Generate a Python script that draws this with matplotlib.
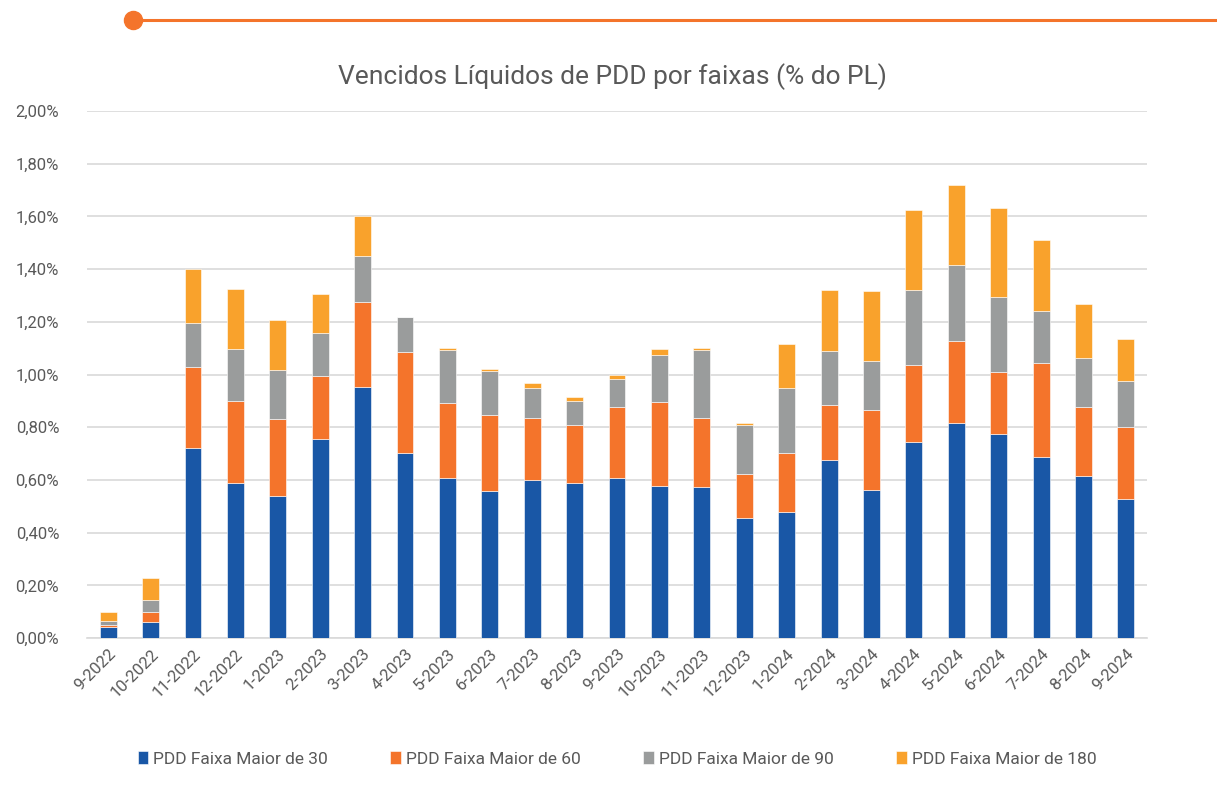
import numpy as np
import matplotlib.pyplot as plt
from matplotlib.ticker import FuncFormatter

plt.rcParams['font.family'] = ['Roboto', 'DejaVu Sans']

meses = ['9-2022', '10-2022', '11-2022', '12-2022', '1-2023', '2-2023', '3-2023',
         '4-2023', '5-2023', '6-2023', '7-2023', '8-2023', '9-2023', '10-2023',
         '11-2023', '12-2023', '1-2024', '2-2024', '3-2024', '4-2024', '5-2024',
         '6-2024', '7-2024', '8-2024', '9-2024']

# valores em % do PL
maior_30 = [0.043, 0.062, 0.721, 0.587, 0.539, 0.755, 0.951, 0.702, 0.606, 0.558,
            0.600, 0.590, 0.606, 0.578, 0.573, 0.455, 0.478, 0.675, 0.562, 0.743,
            0.817, 0.773, 0.688, 0.615, 0.526]
maior_60 = [0.006, 0.036, 0.306, 0.312, 0.293, 0.241, 0.323, 0.383, 0.285, 0.287,
            0.234, 0.220, 0.271, 0.319, 0.263, 0.166, 0.225, 0.208, 0.303, 0.294,
            0.309, 0.235, 0.354, 0.261, 0.274]
maior_90 = [0.017, 0.046, 0.170, 0.197, 0.185, 0.163, 0.176, 0.132, 0.202, 0.167,
            0.116, 0.089, 0.105, 0.178, 0.256, 0.189, 0.245, 0.205, 0.185, 0.284,
            0.291, 0.288, 0.199, 0.187, 0.174]
maior_180 = [0.033, 0.083, 0.203, 0.228, 0.190, 0.145, 0.150, 0.0, 0.006, 0.009,
             0.018, 0.014, 0.017, 0.021, 0.007, 0.005, 0.169, 0.234, 0.266, 0.302,
             0.302, 0.336, 0.269, 0.205, 0.160]

series = [('PDD Faixa Maior de 30', maior_30, '#1957A6'),
          ('PDD Faixa Maior de 60', maior_60, '#F4742B'),
          ('PDD Faixa Maior de 90', maior_90, '#9A9C9C'),
          ('PDD Faixa Maior de 180', maior_180, '#F9A22C')]

fig = plt.figure(figsize=(12.17, 8.10), dpi=100)
ax = fig.add_axes([0.0715, 0.2123, 0.871, 0.6506])

x = np.arange(len(meses))
base = np.zeros(len(meses))
for nome, vals, cor in series:
    vals = np.array(vals)
    ax.bar(x, vals, 0.4, bottom=base, color=cor, label=nome,
           edgecolor='white', linewidth=0.4, zorder=3)
    base += vals

ax.set_xlim(-0.5, len(meses) - 0.5)
ax.set_ylim(0, 2.0)
ax.set_yticks(np.arange(0, 2.01, 0.2))
ax.yaxis.set_major_formatter(FuncFormatter(lambda v, p: ('%.2f%%' % v).replace('.', ',')))
ax.grid(axis='y', color='#D9D9D9', linewidth=1.2, zorder=0)
for s in ['top', 'right', 'left']:
    ax.spines[s].set_visible(False)
ax.spines['bottom'].set_color('#D9D9D9')
ax.spines['bottom'].set_linewidth(1.2)
ax.tick_params(axis='both', length=0, labelsize=12, colors='#595959')
ax.tick_params(axis='y', pad=20)
ax.tick_params(axis='x', pad=6)
ax.set_xticks(x)
ax.set_xticklabels(meses, rotation=45, ha='right', rotation_mode='anchor')

fig.text(0.503, 0.905, 'Vencidos Líquidos de PDD por faixas (% do PL)',
         ha='center', va='center', fontsize=19, color='#595959')

ax.legend(loc='upper center', bbox_to_anchor=(0.5, -0.185), ncol=4, frameon=False,
          fontsize=12.5, handlelength=0.6, handleheight=0.8, handletextpad=0.3,
          columnspacing=3.6, labelcolor='#595959')

# linha decorativa laranja no topo
fig.add_artist(plt.Line2D([133 / 1217, 1.0], [1 - 20 / 810, 1 - 20 / 810],
                          color='#F4742B', linewidth=2.2, transform=fig.transFigure))
fig.add_artist(plt.Line2D([133 / 1217], [1 - 20 / 810], marker='o', markersize=13,
                          color='#F4742B', transform=fig.transFigure))

fig.savefig('out.png', dpi=100)
